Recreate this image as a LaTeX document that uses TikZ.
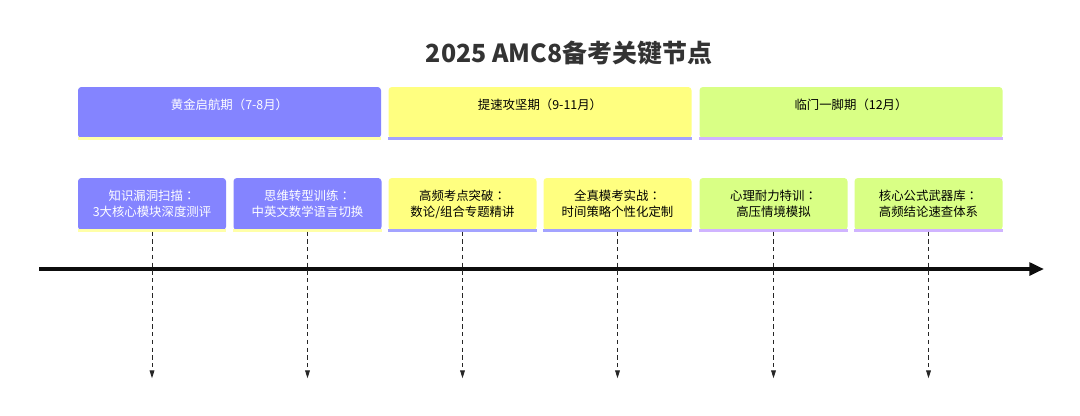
\documentclass[tikz,border=0pt]{standalone}
\usepackage{fontspec}
\setmainfont{Noto Sans CJK SC}
\newfontfamily\tcfont{Noto Sans CJK TC}
\newcommand{\qcolon}{{\tcfont ：}}
\usetikzlibrary{arrows.meta}
\definecolor{cA}{HTML}{8484FF}
\definecolor{cAe}{HTML}{FFFFA8}
\definecolor{cB}{HTML}{FFFF80}
\definecolor{cBe}{HTML}{A3A3FF}
\definecolor{cC}{HTML}{D9FF85}
\definecolor{cCe}{HTML}{D0B4FF}
\definecolor{ttl}{HTML}{333333}
\tikzset{
  secbox/.style={draw=none, rounded corners=2.5pt, minimum width=227.25pt, minimum height=38.25pt, inner sep=0pt},
  taskbox/.style={draw=none, rounded corners=2.5pt, minimum width=111pt, minimum height=39pt, inner sep=0pt, align=center, font=\fontsize{9.3}{12}\selectfont},
  sectext/.style={font=\fontsize{9.3}{12}\selectfont, inner sep=0pt},
  edgeline/.style={line width=2pt},
  drop/.style={densely dashed, dash pattern=on 3.2pt off 2.6pt, line width=0.75pt, color=black!85, -{Triangle[length=6pt,width=3.6pt]}},
  axis/.style={line width=3pt, color=black!95, -{Triangle[length=11pt,width=9.5pt]}}
}
\begin{document}
\begin{tikzpicture}[x=0.75pt,y=-0.75pt]
\useasboundingbox[fill=white] (0,0) rectangle (1080,415);
\node[font=\fontsize{18.7}{22}\selectfont\bfseries, text=ttl] (title) at (569,53) {2025 AMC8备考关键节点};
% sections
\node[secbox, fill=cA] (s1) at (229.5,112.5) {};
\node[secbox, fill=cB] (s2) at (540,112.5) {};
\node[secbox, fill=cC] (s3) at (851,112.5) {};
\draw[edgeline, cAe] (s1.south west) -- (s1.south east);
\draw[edgeline, cBe] (s2.south west) -- (s2.south east);
\draw[edgeline, cCe] (s3.south west) -- (s3.south east);
\node[sectext, text=white] (s1t) at (229.5,105) {黄金启航期（7-8月）};
\node[sectext, text=black] (s2t) at (540,105) {提速攻坚期（9-11月）};
\node[sectext, text=black] (s3t) at (851,105) {临门一脚期（12月）};
% tasks
\node[taskbox, fill=cA, text=white] (t1) at (152,204) {知识漏洞扫描\qcolon\\3大核心模块深度测评};
\node[taskbox, fill=cA, text=white] (t2) at (307.5,204) {思维转型训练\qcolon\\中英文数学语言切换};
\node[taskbox, fill=cB, text=black] (t3) at (462.5,204) {高频考点突破\qcolon\\数论/组合专题精讲};
\node[taskbox, fill=cB, text=black] (t4) at (617.5,204) {全真模考实战\qcolon\\时间策略个性化定制};
\node[taskbox, fill=cC, text=black] (t5) at (773.5,204) {心理耐力特训\qcolon\\高压情境模拟};
\node[taskbox, fill=cC, text=black] (t6) at (928.5,204) {核心公式武器库\qcolon\\高频结论速查体系};
\draw[edgeline, cAe] (t1.south west) -- (t1.south east);
\draw[edgeline, cAe] (t2.south west) -- (t2.south east);
\draw[edgeline, cBe] (t3.south west) -- (t3.south east);
\draw[edgeline, cBe] (t4.south west) -- (t4.south east);
\draw[edgeline, cCe] (t5.south west) -- (t5.south east);
\draw[edgeline, cCe] (t6.south west) -- (t6.south east);
% axis
\coordinate (a0) at (39,269);
\coordinate (a1) at (1044,269);
\draw[axis] (a0) -- (a1);
% drop lines
\foreach \t in {t1,t2,t3,t4,t5,t6}{
  \coordinate (\t e) at ([yshift=-0.75pt*148]\t.south);
  \draw[drop] ([yshift=-1pt]\t.south) -- (\t e);
}
\end{tikzpicture}
\end{document}
